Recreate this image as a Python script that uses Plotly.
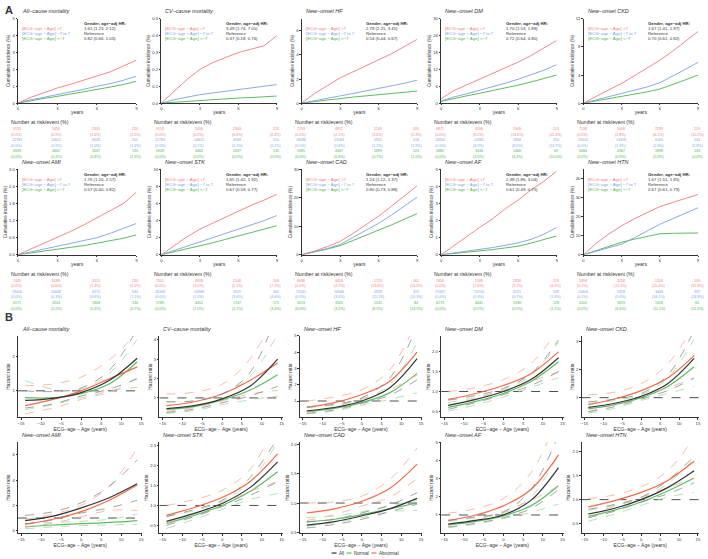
import plotly.graph_objects as go

W, H = 708, 559
def PX(x): return x / W
def PY(y): return 1 - y / H

FONT = "Liberation Sans, Arial, sans-serif"
RED, BLUE, GREEN = "#F07C7C", "#7E9FE3", "#4DB352"
C_ALL, C_NOR, C_ABN = "#333333", "#5BBE62", "#F26B4A"
D_ALL, D_NOR, D_ABN = "#8A8A8A", "#A5D9A7", "#F7A98F"

# ---------------- Panel A data ----------------
years = [0, 1, 2, 3, 4, 5, 6, 7, 8, 9]
km_titles = ["All−cause mortality", "CV−cause mortality", "New−onset HF", "New−onset DM", "New−onset CKD",
             "New−onset AMI", "New−onset STK", "New−onset CAD", "New−onset AF", "New−onset HTN"]
km_yrange = [[0, 5], [0, 0.5], [0, 7], [0, 30], [0, 12], [0, 3.0], [0, 10], [0, 30], [0, 5], [0, 45]]
km_ytick = [[0, 1, 2, 3, 4, 5], [0, 0.1, 0.2, 0.3, 0.4, 0.5], [0, 2, 4, 6], [0, 6, 12, 18, 24, 30],
            [0, 4, 8, 12], [0, 0.6, 1.2, 1.8, 2.4, 3.0], [0, 2, 4, 6, 8, 10], [0, 10, 20, 30],
            [0, 1, 2, 3, 4, 5], [0, 10, 20, 30, 40]]
km_ytext = [["0", "1", "2", "3", "4", "5"], ["0.0", "0.1", "0.2", "0.3", "0.4", "0.5"], ["0", "2", "4", "6"],
            ["0", "6", "12", "18", "24", "30"], ["0", "4", "8", "12"], ["0.0", "0.6", "1.2", "1.8", "2.4", "3.0"],
            ["0", "2", "4", "6", "8", "10"], ["0", "10", "20", "30"], ["0", "1", "2", "3", "4", "5"],
            ["0", "10", "20", "30", "40"]]
km_red = [
    [0, 0.35, 0.62, 0.9, 1.12, 1.35, 1.6, 1.85, 2.2, 2.55],
    [0, 0.07, 0.14, 0.2, 0.24, 0.27, 0.3, 0.32, 0.34, 0.40],
    [0, 0.8, 1.45, 2.1, 2.6, 3.1, 3.6, 4.1, 4.7, 5.3],
    [1.5, 4.5, 6.5, 8.5, 10.5, 12.5, 14.6, 16.9, 19.5, 22.3],
    [0, 1.0, 1.9, 2.8, 3.9, 5.0, 6.1, 7.4, 8.8, 10.2],
    [0, 0.2, 0.4, 0.6, 0.82, 1.05, 1.3, 1.55, 1.8, 2.2],
    [0, 1.1, 2.1, 3.0, 3.7, 4.4, 5.1, 5.8, 6.4, 7.1],
    [0, 1.3, 2.9, 4.7, 7.5, 10.5, 13.6, 17.1, 20.6, 24.3],
    [0, 0.55, 1.1, 1.6, 2.1, 2.7, 3.2, 3.8, 4.3, 4.9],
    [0, 6.0, 11.0, 15.3, 19.0, 22.3, 25.4, 27.6, 29.6, 31.8],
]
km_blue = [
    [0, 0.2, 0.35, 0.5, 0.65, 0.82, 1.0, 1.15, 1.35, 1.6],
    [0, 0.02, 0.035, 0.05, 0.06, 0.07, 0.08, 0.09, 0.1, 0.11],
    [0, 0.22, 0.42, 0.6, 0.8, 1.0, 1.2, 1.42, 1.65, 1.9],
    [0.8, 2.2, 3.3, 4.5, 5.8, 7.1, 8.5, 10.0, 11.7, 13.7],
    [0, 0.45, 0.9, 1.3, 1.8, 2.3, 2.9, 3.8, 4.8, 5.8],
    [0, 0.1, 0.2, 0.3, 0.4, 0.5, 0.6, 0.75, 0.92, 1.1],
    [0, 0.5, 1.0, 1.5, 2.0, 2.5, 3.0, 3.5, 4.0, 4.6],
    [0, 1.0, 2.2, 3.6, 6.0, 8.5, 11.1, 14.0, 17.0, 20.3],
    [0, 0.1, 0.2, 0.3, 0.42, 0.55, 0.7, 0.9, 1.2, 1.6],
    [0, 2.0, 3.8, 5.6, 9.0, 12.5, 16.1, 19.0, 22.0, 24.8],
]
km_green = [
    [0, 0.15, 0.28, 0.4, 0.53, 0.66, 0.8, 0.95, 1.1, 1.3],
    [0, 0.005, 0.012, 0.018, 0.022, 0.026, 0.03, 0.033, 0.037, 0.042],
    [0, 0.14, 0.27, 0.4, 0.5, 0.6, 0.7, 0.8, 0.9, 1.0],
    [0.6, 1.7, 2.6, 3.5, 4.4, 5.4, 6.4, 7.5, 8.7, 10.0],
    [0, 0.3, 0.6, 0.9, 1.2, 1.6, 2.0, 2.6, 3.3, 4.0],
    [0, 0.07, 0.13, 0.2, 0.26, 0.32, 0.4, 0.48, 0.58, 0.7],
    [0, 0.35, 0.7, 1.0, 1.4, 1.8, 2.2, 2.6, 3.0, 3.4],
    [0, 0.9, 2.0, 3.2, 5.0, 6.8, 8.5, 10.5, 12.5, 14.5],
    [0, 0.07, 0.14, 0.2, 0.3, 0.4, 0.5, 0.68, 0.88, 1.1],
    [0, 2.2, 4.4, 6.6, 8.2, 9.7, 11.1, 11.3, 11.4, 11.5],
]
hr_high = ["1.61 (1.23, 2.12)", "3.49 (1.74, 7.01)", "2.79 (2.25, 3.45)", "1.70 (1.53, 1.89)", "1.67 (1.41, 1.97)",
           "1.76 (1.20, 2.57)", "1.65 (1.42, 1.92)", "1.24 (1.12, 1.37)", "2.38 (1.86, 3.04)", "1.67 (1.51, 1.85)"]
hr_low = ["0.82 (0.66, 1.03)", "0.37 (0.18, 0.76)", "0.54 (0.44, 0.67)", "0.72 (0.64, 0.80)", "0.70 (0.61, 0.82)",
          "0.57 (0.40, 0.82)", "0.67 (0.59, 0.77)", "0.80 (0.73, 0.88)", "0.61 (0.49, 0.75)", "0.67 (0.61, 0.73)"]
group_labels = ["[ECG−age − Age] >7", "[ECG−age − Age] −7 to 7", "[ECG−age − Age] <−7"]
risk_years = [0, 3, 6, 9]
risk_n_red = [[9153, 5456, 2303, 220], [9153, 5456, 2303, 220], [7293, 4952, 2149, 205], [6872, 4596, 1909, 113],
              [7136, 5006, 2289, 219], [7445, 6189, 3315, 230], [7501, 4958, 2108, 204], [6636, 4454, 1723, 162],
              [7456, 5186, 2358, 219], [5394, 3258, 1203, 109]]
risk_p_red = [["0.0", "0.9", "1.6", "2.5"], ["0.0", "0.2", "0.3", "0.4"], ["0.0", "2.1", "3.6", "5.3"],
              ["0.0", "8.5", "14.6", "22.3"], ["0.0", "2.8", "6.1", "10.2"], ["0.0", "0.6", "1.3", "2.2"],
              ["0.0", "3.0", "5.1", "7.1"], ["0.0", "4.7", "13.6", "24.3"], ["0.0", "1.6", "3.2", "4.9"],
              ["0.1", "15.3", "25.4", "31.8"]]
risk_n_blue = [[22783, 14651, 6928, 555], [22783, 14651, 6928, 555], [18686, 13183, 5955, 518],
               [18900, 12981, 5808, 350], [19015, 13398, 6105, 534], [19416, 14038, 6270, 544],
               [16168, 10968, 5619, 465], [15561, 10946, 4928, 315], [19167, 13716, 6121, 539],
               [13403, 9328, 3448, 392]]
risk_p_blue = [["0.0", "0.5", "1.0", "1.6"], ["0.0", "0.1", "0.1", "0.1"], ["0.0", "0.6", "1.2", "1.9"],
               ["0.0", "4.5", "8.5", "13.7"], ["0.0", "1.3", "2.9", "5.8"], ["0.0", "0.3", "0.6", "1.1"],
               ["0.0", "1.5", "3.0", "4.6"], ["0.0", "3.6", "11.1", "20.3"], ["0.0", "0.3", "0.7", "1.6"],
               ["0.1", "5.6", "16.1", "24.8"]]
risk_n_green = [[6928, 4662, 2037, 135], [6928, 4662, 2037, 135], [5985, 4347, 1899, 123], [4882, 3246, 1468, 69],
                [6084, 4367, 1898, 133], [6171, 4524, 1858, 130], [5789, 4052, 1747, 171], [5074, 3563, 1531, 84],
                [6173, 4441, 1938, 128], [4110, 3559, 1058, 63]]
risk_p_green = [["0.0", "0.4", "0.8", "1.3"], ["0.0", "0.0", "0.0", "0.0"], ["0.0", "0.4", "0.7", "1.0"],
                ["0.0", "3.5", "6.4", "10.0"], ["0.0", "0.9", "2.0", "4.0"], ["0.0", "0.2", "0.4", "0.7"],
                ["0.0", "1.0", "2.2", "3.4"], ["0.0", "3.2", "8.5", "14.5"], ["0.0", "0.2", "0.5", "1.1"],
                ["0.0", "6.6", "11.1", "11.5"]]

# ---------------- Panel B data ----------------
hr_x = [-14, -7, 0, 7, 14]
hr_yrange = [[0.23, 2.6], [0, 4.2], [0, 5], [0.35, 2.4], [0.3, 3.2],
             [-0.2, 7], [0.3, 2.6], [0.48, 2.05], [0, 5], [0.3, 2.2]]
hr_ytick = [[1, 2], [1, 2, 3, 4], [1, 2, 3, 4, 5], [0.5, 1.0, 1.5, 2.0], [1, 2, 3],
            [0, 2, 4, 6], [0.5, 1.0, 1.5, 2.0, 2.5], [0.5, 1.0, 1.5, 2.0], [1, 2, 3, 4, 5], [0.5, 1.0, 1.5, 2.0]]
hr_ytext = [["1", "2"], ["1", "2", "3", "4"], ["1", "2", "3", "4", "5"], ["0.5", "1.0", "1.5", "2.0"], ["1", "2", "3"],
            ["0", "2", "4", "6"], ["0.5", "1.0", "1.5", "2.0", "2.5"], ["0.5", "1.0", "1.5", "2.0"],
            ["1", "2", "3", "4", "5"], ["0.5", "1.0", "1.5", "2.0"]]
all_fit = [[0.72, 0.78, 0.95, 1.3, 1.95], [0.45, 0.6, 0.95, 1.6, 3.0], [0.4, 0.6, 1.0, 1.8, 3.6],
           [0.65, 0.8, 1.0, 1.3, 1.85], [0.65, 0.8, 1.05, 1.5, 2.4], [0.8, 1.15, 1.8, 2.6, 3.7],
           [0.6, 0.8, 1.05, 1.45, 2.1], [0.62, 0.68, 0.78, 0.9, 1.08], [0.5, 0.7, 1.0, 1.8, 3.6],
           [0.7, 0.82, 1.0, 1.25, 1.6]]
all_lo = [[0.5, 0.62, 0.85, 1.05, 1.35], [0.25, 0.42, 0.75, 1.1, 1.6], [0.25, 0.45, 0.85, 1.35, 2.3],
          [0.55, 0.72, 0.92, 1.15, 1.5], [0.5, 0.68, 0.95, 1.25, 1.7], [0.55, 0.85, 1.4, 1.8, 2.4],
          [0.5, 0.72, 0.97, 1.25, 1.6], [0.57, 0.63, 0.72, 0.85, 0.98], [0.35, 0.55, 0.85, 1.35, 2.4],
          [0.62, 0.76, 0.95, 1.12, 1.35]]
all_hi = [[1.0, 0.98, 1.08, 1.6, 2.8], [0.8, 0.85, 1.2, 2.3, 5.5], [0.65, 0.8, 1.2, 2.4, 5.6],
          [0.78, 0.9, 1.08, 1.45, 2.3], [0.85, 0.95, 1.15, 1.8, 3.4], [1.2, 1.5, 2.2, 3.5, 5.6],
          [0.72, 0.9, 1.13, 1.7, 2.7], [0.68, 0.72, 0.83, 0.96, 1.18], [0.7, 0.9, 1.15, 2.4, 5.4],
          [0.8, 0.9, 1.05, 1.4, 1.9]]
nor_fit = [[0.8, 0.8, 0.92, 1.2, 1.85], [0.4, 0.55, 0.9, 1.4, 2.2], [0.35, 0.55, 0.9, 1.5, 2.7],
           [0.6, 0.75, 0.95, 1.25, 1.75], [0.6, 0.75, 1.0, 1.4, 2.1], [0.3, 0.45, 0.55, 0.65, 0.8],
           [0.55, 0.75, 1.0, 1.35, 1.85], [0.67, 0.72, 0.8, 0.9, 1.0], [0.45, 0.65, 0.95, 1.5, 2.6],
           [0.65, 0.78, 0.95, 1.18, 1.45]]
nor_lo = [[0.45, 0.6, 0.8, 0.95, 1.4], [0.2, 0.35, 0.65, 0.9, 1.1], [0.2, 0.4, 0.75, 1.1, 1.5],
          [0.5, 0.66, 0.86, 1.1, 1.35], [0.45, 0.62, 0.9, 1.15, 1.4], [0.15, 0.3, 0.4, 0.45, 0.5],
          [0.42, 0.65, 0.9, 1.15, 1.3], [0.6, 0.66, 0.75, 0.85, 0.87], [0.3, 0.5, 0.8, 1.15, 1.6],
          [0.55, 0.7, 0.88, 1.05, 1.15]]
nor_hi = [[1.3, 1.05, 1.05, 1.5, 2.5], [0.8, 0.85, 1.2, 2.1, 4.3], [0.6, 0.75, 1.1, 2.0, 4.6],
          [0.72, 0.85, 1.05, 1.4, 2.25], [0.8, 0.9, 1.1, 1.7, 3.1], [0.55, 0.65, 0.75, 0.9, 1.3],
          [0.72, 0.87, 1.1, 1.6, 2.6], [0.75, 0.78, 0.85, 0.95, 1.05], [0.65, 0.85, 1.1, 2.0, 4.3],
          [0.78, 0.88, 1.02, 1.33, 1.85]]
abn_fit = [[0.57, 0.75, 1.0, 1.35, 1.7], [0.6, 0.8, 1.2, 1.9, 2.8], [0.6, 0.9, 1.4, 2.2, 4.0],
           [0.8, 0.95, 1.15, 1.45, 2.0], [0.75, 0.95, 1.25, 1.7, 2.5], [0.5, 0.9, 1.5, 2.4, 3.6],
           [0.75, 0.95, 1.2, 1.6, 2.3], [0.83, 0.9, 1.03, 1.25, 1.67], [0.7, 1.0, 1.5, 2.4, 4.3],
           [0.85, 0.98, 1.15, 1.4, 1.8]]
abn_lo = [[0.33, 0.5, 0.75, 1.0, 1.1], [0.3, 0.5, 0.85, 1.2, 1.4], [0.35, 0.65, 1.15, 1.7, 2.6],
          [0.65, 0.82, 1.02, 1.25, 1.5], [0.5, 0.75, 1.05, 1.35, 1.7], [0.3, 0.6, 1.1, 1.6, 1.6],
          [0.55, 0.8, 1.05, 1.35, 1.6], [0.7, 0.8, 0.95, 1.1, 1.42], [0.45, 0.75, 1.2, 1.8, 2.6],
          [0.7, 0.86, 1.05, 1.25, 1.45]]
abn_hi = [[1.15, 1.2, 1.4, 1.9, 2.7], [1.2, 1.3, 1.7, 3.0, 5.5], [1.0, 1.25, 1.7, 2.9, 6.0],
          [1.0, 1.1, 1.3, 1.7, 2.6], [1.1, 1.2, 1.5, 2.2, 3.6], [0.9, 1.3, 2.0, 3.5, 6.5],
          [1.0, 1.15, 1.38, 1.9, 3.2], [1.0, 1.02, 1.12, 1.4, 1.95], [1.1, 1.35, 1.9, 3.3, 6.5],
          [1.02, 1.1, 1.27, 1.6, 2.3]]

# ---------------- layout geometry (pixels) ----------------
km_cols = [(17, 136), (161, 277), (302, 418), (442, 558), (585, 700)]
km_rows = [(16, 101), (168, 254)]
hr_cols = [(17, 142), (159, 283), (300, 423), (442, 565), (583, 701)]
hr_rows = [(336, 418), (443, 535)]

fig = go.Figure()
layout = {}
ann = []
shapes = []
axfont = dict(family=FONT, size=4.2, color="#333")
line_ax = dict(showline=True, linecolor="#333", linewidth=0.7, ticks="outside", ticklen=1.5,
               tickwidth=0.6, tickcolor="#333", showgrid=False, zeroline=False, tickfont=axfont)

def add_text(x, y, t, size=4.2, color="#333", xanchor="center", bold=False, italic=False):
    if bold:
        t = "<b>" + t + "</b>"
    if italic:
        t = "<i>" + t + "</i>"
    ann.append(dict(x=PX(x), y=PY(y), xref="paper", yref="paper", text=t, showarrow=False, borderpad=0,
                    xanchor=xanchor, yanchor="middle", font=dict(family=FONT, size=size, color=color)))

for i in range(10):
    r, c = divmod(i, 5)
    x0, x1 = km_cols[c]
    y0, y1 = km_rows[r]
    k = i + 1
    xa, ya = ("xaxis" if k == 1 else f"xaxis{k}"), ("yaxis" if k == 1 else f"yaxis{k}")
    xr, yr = ("x" if k == 1 else f"x{k}"), ("y" if k == 1 else f"y{k}")
    layout[xa] = dict(domain=[PX(x0), PX(x1)], anchor=yr, range=[0, 9], tickvals=[0, 3, 6, 9],
                      title=dict(text="years", font=dict(family=FONT, size=5, color="#333"), standoff=0), **line_ax)
    layout[ya] = dict(domain=[PY(y1), PY(y0)], anchor=xr, range=km_yrange[i], tickvals=km_ytick[i],
                      ticktext=km_ytext[i],
                      title=dict(text="Cumulative incidence (%)", font=dict(family=FONT, size=4.6, color="#333"),
                                 standoff=1), **line_ax)
    for vals, col in ((km_green[i], GREEN), (km_blue[i], BLUE), (km_red[i], RED)):
        fig.add_trace(go.Scatter(x=years, y=vals, mode="lines", line=dict(color=col, width=0.9),
                                 xaxis=xr, yaxis=yr, showlegend=False, hoverinfo="skip"))
    add_text(x0 + 3, y0 - 8, km_titles[i], size=5.5, xanchor="left", italic=True)
    for j, (lab, col) in enumerate(zip(group_labels, (RED, BLUE, GREEN))):
        add_text(x0 + 3, y0 + 10 + 5 * j, lab, size=4.3, color=col, xanchor="left")
    hx = x0 + 0.55 * (x1 - x0)
    add_text(hx, y0 + 5, "Gender, age−adj HR:", size=4.3, xanchor="left", bold=True)
    add_text(hx, y0 + 10, hr_high[i], size=4.3, xanchor="left")
    add_text(hx, y0 + 15, "Reference", size=4.3, xanchor="left")
    add_text(hx, y0 + 20, hr_low[i], size=4.3, xanchor="left")
    # risk table
    ty = y1 + 19.5
    add_text(x0 - 8, ty, "Number at risk/event (%)", size=5.2, xanchor="left")
    rows = [(risk_n_red[i], None, RED), (risk_p_red[i], "%", RED),
            (risk_n_blue[i], None, BLUE), (risk_p_blue[i], "%", BLUE),
            (risk_n_green[i], None, GREEN), (risk_p_green[i], "%", GREEN)]
    for rr, (vals, kind, col) in enumerate(rows):
        yy = ty + 6.8 + 5.6 * rr
        for yrv, v in zip(risk_years, vals):
            xx = min(x0 + (x1 - x0) * yrv / 9 - 1, 699)
            t = f"({v}%)" if kind else str(v)
            add_text(xx, yy, t, size=3.6, color=col)

for i in range(10):
    r, c = divmod(i, 5)
    x0, x1 = hr_cols[c]
    y0, y1 = hr_rows[r]
    k = i + 11
    xa, ya = f"xaxis{k}", f"yaxis{k}"
    xr, yr = f"x{k}", f"y{k}"
    layout[xa] = dict(domain=[PX(x0), PX(x1)], anchor=yr, range=[-15.8, 15.3],
                      tickvals=[-15, -10, -5, 0, 5, 10, 15],
                      title=dict(text="ECG−age − Age (years)", font=dict(family=FONT, size=5, color="#333"),
                                 standoff=0), **line_ax)
    layout[ya] = dict(domain=[PY(y1), PY(y0)], anchor=xr, range=hr_yrange[i], tickvals=hr_ytick[i],
                      ticktext=hr_ytext[i],
                      title=dict(text="Hazard ratio", font=dict(family=FONT, size=4.8, color="#333"), standoff=1),
                      **line_ax)
    fig.add_trace(go.Scatter(x=[-15.8, 15.3], y=[1, 1], mode="lines", line=dict(color="#222", width=0.8, dash="dash"),
                             xaxis=xr, yaxis=yr, showlegend=False, hoverinfo="skip"))
    for fit, lo, hi, col, dcol in ((nor_fit, nor_lo, nor_hi, C_NOR, D_NOR), (abn_fit, abn_lo, abn_hi, C_ABN, D_ABN),
                                   (all_fit, all_lo, all_hi, C_ALL, D_ALL)):
        for vals in (lo[i], hi[i]):
            fig.add_trace(go.Scatter(x=hr_x, y=vals, mode="lines",
                                     line=dict(color=dcol, width=0.8, dash="dash", shape="spline"),
                                     xaxis=xr, yaxis=yr, showlegend=False, hoverinfo="skip"))
        fig.add_trace(go.Scatter(x=hr_x, y=fit[i], mode="lines", line=dict(color=col, width=1.2, shape="spline"),
                                 xaxis=xr, yaxis=yr, showlegend=False, hoverinfo="skip"))
    add_text(x0 + 3, y0 - 7, km_titles[i], size=5.5, xanchor="left", italic=True)

add_text(3, 7, "A", size=11, xanchor="left", bold=True)
add_text(3, 317, "B", size=11, xanchor="left", bold=True)

# bottom legend
for (lx, lab, col) in ((332, "All", C_ALL), (347, "Normal", C_NOR), (372, "Abnormal", C_ABN)):
    shapes.append(dict(type="line", xref="paper", yref="paper", x0=PX(lx), x1=PX(lx + 5), y0=PY(555), y1=PY(555),
                       line=dict(color=col, width=1.2)))
    add_text(lx + 6.5, 555, lab, size=4.6, xanchor="left")

fig.update_layout(width=W, height=H, margin=dict(l=0, r=0, t=0, b=0), paper_bgcolor="white",
                  plot_bgcolor="white", showlegend=False, annotations=ann, shapes=shapes,
                  font=dict(family=FONT), **layout)
fig.write_html("out.html", config={"displayModeBar": False},
               post_script="document.body.style.margin='0';document.body.style.overflow='hidden';")
